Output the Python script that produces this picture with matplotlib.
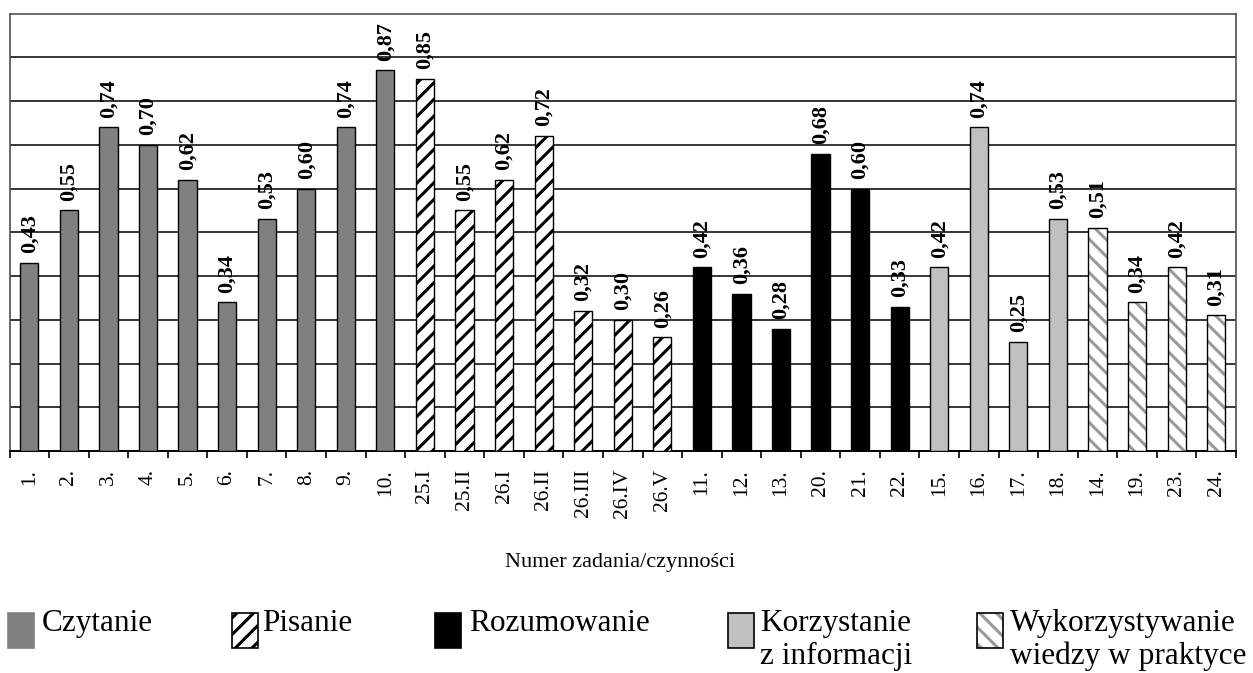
import numpy as np
import matplotlib
matplotlib.use('Agg')
import matplotlib.pyplot as plt
from matplotlib.patches import Rectangle

plt.rcParams['font.family'] = ['Liberation Serif', 'DejaVu Serif']
plt.rcParams['hatch.linewidth'] = 2.2

# dane: kategorie i wartości
czytanie_labels = ['1.', '2.', '3.', '4.', '5.', '6.', '7.', '8.', '9.', '10.']
czytanie_values = [0.43, 0.55, 0.74, 0.70, 0.62, 0.34, 0.53, 0.60, 0.74, 0.87]
pisanie_labels = ['25.I', '25.II', '26.I', '26.II', '26.III', '26.IV', '26.V']
pisanie_values = [0.85, 0.55, 0.62, 0.72, 0.32, 0.30, 0.26]
rozum_labels = ['11.', '12.', '13.', '20.', '21.', '22.']
rozum_values = [0.42, 0.36, 0.28, 0.68, 0.60, 0.33]
korzyst_labels = ['15.', '16.', '17.', '18.']
korzyst_values = [0.42, 0.74, 0.25, 0.53]
wiedza_labels = ['14.', '19.', '23.', '24.']
wiedza_values = [0.51, 0.34, 0.42, 0.31]

legend_names = ['Czytanie', 'Pisanie', 'Rozumowanie', 'Korzystanie\nz informacji',
                'Wykorzystywanie\nwiedzy w praktyce']

W, H = 1253, 673
fig = plt.figure(figsize=(W / 100, H / 100), dpi=100)
ax = fig.add_axes([9.5 / W, 1 - 451 / H, (1236 - 9.5) / W, (451 - 13.5) / H])

groups = [
    (czytanie_labels, czytanie_values, dict(color='#808080', edgecolor='black', linewidth=1.0)),
    (pisanie_labels, pisanie_values, dict(color='white', edgecolor='black', hatch='//', linewidth=1.0)),
    (rozum_labels, rozum_values, dict(color='black', edgecolor='black', linewidth=1.0)),
    (korzyst_labels, korzyst_values, dict(color='#c0c0c0', edgecolor='black', linewidth=1.0)),
    (wiedza_labels, wiedza_values, dict(color='white', edgecolor='#9a9a9a', hatch='\\\\', linewidth=0)),
]

bw = 0.46
start = 0
all_labels = []
for labels, values, style in groups:
    x = np.arange(start, start + len(values))
    bars = ax.bar(x, values, width=bw, zorder=3, **style)
    if style.get('linewidth') == 0:
        # obramowanie czarne, kreskowanie szare
        bars = ax.bar(x, values, width=bw, fill=False, edgecolor='black', linewidth=1.0, zorder=4)
    ax.bar_label(bars, labels=[f'{v:.2f}'.replace('.', ',') for v in values],
                 rotation=90, padding=7, fontsize=16, fontweight='bold')
    all_labels += labels
    start += len(values)

n = len(all_labels)
ax.set_xlim(-0.5, n - 0.5)
ax.set_ylim(0, 1.0)
ax.set_yticks(np.arange(0.1, 1.0, 0.1))
ax.yaxis.grid(True, color='black', linewidth=1.1, zorder=0)
ax.tick_params(axis='y', left=False, labelleft=False)

ax.set_xticks(np.arange(n))
ax.set_xticklabels(all_labels, rotation=90, fontsize=15.5)
ax.set_xticks(np.arange(n + 1) - 0.5, minor=True)
ax.tick_params(axis='x', which='major', length=0, pad=13)
ax.tick_params(axis='x', which='minor', length=5, width=1.2, direction='out', color='black')

for side in ['top', 'right', 'left']:
    ax.spines[side].set_color('#505050')
    ax.spines[side].set_linewidth(1.2)
ax.spines['bottom'].set_linewidth(1.4)

fig.text(620 / W, 1 - 567 / H, 'Numer zadania/czynności', ha='center', va='baseline', fontsize=16)

# legenda
sq_x = [8, 232, 435, 728, 977]
txt_x = [42, 262, 469, 760, 1010]
faces = ['#808080', 'white', 'black', '#c0c0c0', 'white']
edges = ['#808080', 'black', 'black', 'black', 'black']
hatches = [None, '//', None, None, '\\\\']
for i, name in enumerate(legend_names):
    r = Rectangle((sq_x[i] / W, 1 - 648 / H), 26 / W, 35 / H, transform=fig.transFigure,
                  facecolor=faces[i], edgecolor=edges[i], linewidth=1.2, hatch=hatches[i])
    if i == 4:
        r.set_edgecolor('#9a9a9a')
        r.set_linewidth(0)
        fig.patches.append(r)
        r = Rectangle((sq_x[i] / W, 1 - 648 / H), 26 / W, 35 / H, transform=fig.transFigure,
                      fill=False, edgecolor='black', linewidth=1.2)
    fig.patches.append(r)
    for j, line in enumerate(name.split('\n')):
        fig.text(txt_x[i] / W, 1 - (631 + 33 * j) / H, line, ha='left', va='baseline', fontsize=22.5)

fig.savefig('out.png', dpi=100)
